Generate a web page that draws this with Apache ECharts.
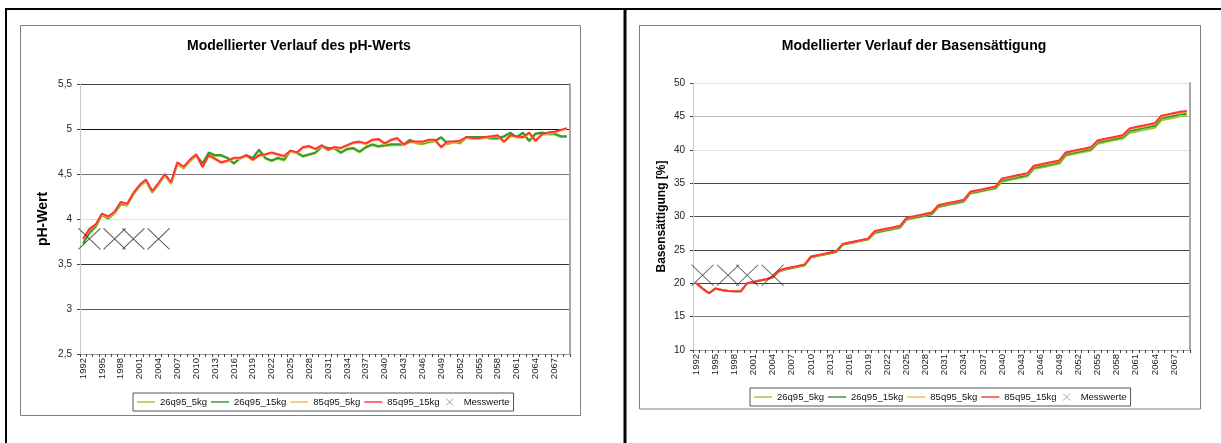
<!DOCTYPE html>
<html>
<head>
<meta charset="utf-8">
<script src="https://cdn.jsdelivr.net/npm/echarts@6/dist/echarts.min.js"></script>
<style>
html,body{margin:0;padding:0;background:#fff;}
#c{width:1221px;height:443px;}
</style>
</head>
<body>
<div id="c"></div>
<script>
const years = ['1992','1993','1994','1995','1996','1997','1998','1999','2000','2001','2002','2003','2004','2005','2006','2007','2008','2009','2010','2011',
'2012','2013','2014','2015','2016','2017','2018','2019','2020','2021','2022','2023','2024','2025','2026','2027','2028','2029','2030','2031',
'2032','2033','2034','2035','2036','2037','2038','2039','2040','2041','2042','2043','2044','2045','2046','2047','2048','2049','2050','2051',
'2052','2053','2054','2055','2056','2057','2058','2059','2060','2061','2062','2063','2064','2065','2066','2067','2068','2069'];

const seriesNames = ['26q95_5kg','26q95_15kg','85q95_5kg','85q95_15kg'];
const measureName = 'Messwerte';

// pH chart
const ph_26q95_5kg = [3.72,3.84,3.91,4.04,4.00,4.06,4.16,4.15,4.27,4.36,4.42,4.29,4.38,4.48,4.39,4.61,4.56,4.64,4.70,4.61,
4.73,4.70,4.70,4.67,4.61,4.67,4.70,4.67,4.76,4.67,4.64,4.67,4.65,4.75,4.73,4.69,4.71,4.73,4.80,4.78,
4.78,4.73,4.77,4.78,4.74,4.79,4.82,4.80,4.81,4.82,4.82,4.82,4.87,4.84,4.83,4.85,4.86,4.90,4.83,4.85,
4.84,4.90,4.90,4.90,4.90,4.89,4.89,4.91,4.95,4.90,4.95,4.86,4.94,4.95,4.94,4.94,4.91,4.91];
const ph_26q95_15kg = [3.73,3.85,3.92,4.05,4.01,4.07,4.17,4.16,4.28,4.37,4.43,4.30,4.39,4.49,4.40,4.62,4.57,4.65,4.71,4.62,
4.74,4.71,4.71,4.68,4.62,4.68,4.71,4.68,4.77,4.68,4.65,4.68,4.66,4.76,4.74,4.70,4.72,4.74,4.81,4.79,
4.79,4.74,4.78,4.79,4.75,4.80,4.83,4.81,4.82,4.83,4.83,4.83,4.88,4.85,4.84,4.86,4.87,4.91,4.84,4.86,
4.85,4.91,4.91,4.91,4.91,4.90,4.90,4.92,4.96,4.91,4.96,4.87,4.95,4.96,4.95,4.95,4.92,4.92];
const ph_85q95_5kg = [3.77,3.88,3.93,4.05,4.02,4.07,4.18,4.16,4.28,4.37,4.43,4.30,4.39,4.49,4.40,4.62,4.57,4.65,4.71,4.57,
4.70,4.66,4.62,4.64,4.67,4.67,4.70,4.65,4.70,4.71,4.73,4.71,4.69,4.75,4.73,4.79,4.80,4.77,4.81,4.76,
4.79,4.78,4.81,4.84,4.85,4.83,4.87,4.88,4.83,4.87,4.89,4.82,4.85,4.85,4.85,4.87,4.87,4.79,4.85,4.85,
4.86,4.90,4.89,4.89,4.90,4.91,4.92,4.85,4.92,4.91,4.90,4.95,4.86,4.93,4.95,4.96,4.98,5.00];
const ph_85q95_15kg = [3.78,3.89,3.94,4.06,4.03,4.08,4.19,4.17,4.29,4.38,4.44,4.31,4.40,4.50,4.41,4.63,4.58,4.66,4.72,4.58,
4.71,4.67,4.63,4.65,4.68,4.68,4.71,4.66,4.71,4.72,4.74,4.72,4.70,4.76,4.74,4.80,4.81,4.78,4.82,4.77,
4.80,4.79,4.82,4.85,4.86,4.84,4.88,4.89,4.84,4.88,4.90,4.83,4.86,4.86,4.86,4.88,4.88,4.80,4.86,4.86,
4.87,4.91,4.90,4.90,4.91,4.92,4.93,4.86,4.93,4.92,4.91,4.96,4.87,4.94,4.96,4.97,4.99,5.01];
const measureYears = ['1993','1997','2000','2004'];
const measurePH = [3.78,3.78,3.78,3.78];

// Basensättigung chart
const bs_26q95_5kg = [20.0,19.2,18.5,19.2,19.0,18.85,18.8,18.8,20.0,20.2,20.4,20.6,20.9,
21.75,22.05,22.25,22.45,22.65,23.85,24.05,24.25,24.45,24.65,25.75,25.95,26.15,26.35,26.55,
27.5,27.7,27.9,28.1,28.3,29.5,29.7,29.9,30.1,30.3,31.4,31.6,31.8,32.0,32.2,33.4,33.6,33.8,34.0,34.2,
35.2,35.4,35.6,35.8,36.0,37.1,37.3,37.5,37.7,37.9,39.1,39.3,39.5,39.7,39.9,40.9,41.1,41.3,41.5,41.7,
42.5,42.7,42.9,43.1,43.3,44.4,44.6,44.8,45.0,45.1];
const bs_26q95_15kg = [20.0,19.2,18.5,19.2,19.0,18.85,18.8,18.8,20.0,20.2,20.4,20.6,20.9,
21.8,22.1,22.3,22.5,22.7,23.9,24.1,24.3,24.5,24.7,25.8,26.0,26.2,26.4,26.6,
27.6,27.8,28.0,28.2,28.4,29.6,29.8,30.0,30.2,30.4,31.5,31.7,31.9,32.1,32.3,33.5,33.7,33.9,34.1,34.3,
35.4,35.6,35.8,36.0,36.2,37.3,37.5,37.7,37.9,38.1,39.3,39.5,39.7,39.9,40.1,41.1,41.3,41.5,41.7,41.9,
42.8,43.0,43.2,43.4,43.6,44.7,44.9,45.1,45.3,45.4];
const bs_85q95_5kg = [20.0,19.2,18.5,19.2,19.0,18.85,18.8,18.8,20.0,20.2,20.4,20.6,20.9,
21.87,22.17,22.37,22.57,22.77,23.97,24.17,24.37,24.57,24.77,25.87,26.07,26.27,26.47,26.67,
27.73,27.93,28.13,28.33,28.53,29.73,29.93,30.13,30.33,30.53,31.63,31.83,32.03,32.23,32.43,33.63,33.83,34.03,34.23,34.43,
35.6,35.8,36.0,36.2,36.4,37.5,37.7,37.9,38.1,38.3,39.5,39.7,39.9,40.1,40.3,41.3,41.5,41.7,41.9,42.1,
43.05,43.25,43.45,43.65,43.85,44.95,45.15,45.35,45.55,45.65];
const bs_85q95_15kg = [20.0,19.2,18.5,19.2,19.0,18.85,18.8,18.8,20.0,20.2,20.4,20.6,20.9,
21.9,22.2,22.4,22.6,22.8,24.0,24.2,24.4,24.6,24.8,25.9,26.1,26.3,26.5,26.7,
27.8,28.0,28.2,28.4,28.6,29.8,30.0,30.2,30.4,30.6,31.7,31.9,32.1,32.3,32.5,33.7,33.9,34.1,34.3,34.5,
35.7,35.9,36.1,36.3,36.5,37.6,37.8,38.0,38.2,38.4,39.6,39.8,40.0,40.2,40.4,41.4,41.6,41.8,42.0,42.2,
43.2,43.4,43.6,43.8,44.0,45.1,45.3,45.5,45.7,45.8];
const measureBS = [21.2,21.2,21.2,21.2];

const phTicks = {min:2.5, max:5.5, step:0.5};
const bsTicks = {min:10, max:50, step:5};

const colors = ['#99cc33','#2f9a2f','#ffb34d','#ff3333'];
const FONT = '"Liberation Sans", Arial, sans-serif';
const xSymbol = 'path://M0,0L10,10M10,0L0,10';
const lineIcon = 'path://M0,0L20,0L20,1.6L0,1.6Z';

function xAxisFor(g){
  return {
    type:'category', gridIndex:g, data:years, boundaryGap:true,
    axisLine:{show:true, onZero:false, lineStyle:{color:'#a0a0a0', width:1}},
    axisTick:{show:true, interval:0, length:3, lineStyle:{color:'#444'}},
    axisLabel:{interval:2, rotate:90, fontSize:9.5, color:'#222', margin:4, fontFamily:FONT},
    splitLine:{show:false}
  };
}
function yAxisFor(g, t, name, nameSize, nameGap, splitColors){
  return {
    type:'value', gridIndex:g, min:t.min, max:t.max, interval:t.step,
    axisLine:{show:true, onZero:false, lineStyle:{color:'#c8c8c8'}},
    axisTick:{show:true, length:3, lineStyle:{color:'#444'}},
    axisLabel:{fontSize:10, color:'#222', margin:8, fontFamily:FONT,
      formatter:v=>String(v).replace('.',',')},
    splitLine:{show:true, lineStyle:{color:splitColors, width:1}},
    name:name, nameLocation:'middle', nameGap:nameGap,
    nameTextStyle:{fontWeight:'bold', fontSize:nameSize, color:'#000', fontFamily:FONT}
  };
}
function borderAxis(g, t){
  return {
    type:'value', gridIndex:g, position:'right', min:t.min, max:t.max, interval:t.step,
    axisLine:{show:true, onZero:false, lineStyle:{color:'#a8a8a8', width:2}},
    axisTick:{show:false}, axisLabel:{show:false}, splitLine:{show:false}
  };
}
function lineSeries(name, data, color, xi, yi){
  return {name:name, type:'line', xAxisIndex:xi, yAxisIndex:yi, data:data,
    showSymbol:false, symbol:'none', lineStyle:{color:color, width:2}, itemStyle:{color:color},
    animation:false};
}
function measureSeries(vals, xi, yi){
  return {name:measureName, type:'scatter', xAxisIndex:xi, yAxisIndex:yi,
    data:measureYears.map((y,i)=>[y, vals[i]]),
    symbol:xSymbol, symbolSize:[22,21], symbolKeepAspect:false,
    itemStyle:{color:'none', borderColor:'#333', borderWidth:1}, animation:false, z:3};
}
function legendAt(left, top){
  return {
    left:left, top:top, orient:'horizontal',
    data:seriesNames.map((n,i)=>({name:n, icon:lineIcon, itemStyle:{color:colors[i], borderWidth:0}}))
      .concat([{name:measureName, icon:xSymbol, itemStyle:{color:'none', borderColor:'#888', borderWidth:1}}]),
    itemWidth:18, itemHeight:7, itemGap:4,
    padding:[3,4], borderColor:'#555', borderWidth:1,
    textStyle:{fontSize:9.5, color:'#111', fontFamily:FONT},
    selectedMode:false
  };
}

const chart = echarts.init(document.getElementById('c'), null, {renderer:'canvas'});
chart.setOption({
  animation:false,
  backgroundColor:'#fff',
  title:[
    {text:'Modellierter Verlauf des pH-Werts', left:299, top:39, textAlign:'center', padding:0,
     textStyle:{fontSize:14, fontWeight:'bold', color:'#000', fontFamily:FONT}},
    {text:'Modellierter Verlauf der Basensättigung', left:914, top:39, textAlign:'center', padding:0,
     textStyle:{fontSize:14, fontWeight:'bold', color:'#000', fontFamily:FONT}}
  ],
  legend:[legendAt(133,393), legendAt(750,388)],
  grid:[
    {left:80, top:84, width:490, height:270},
    {left:693, top:83, width:497, height:267}
  ],
  xAxis:[xAxisFor(0), xAxisFor(1)],
  yAxis:[
    yAxisFor(0, phTicks, 'pH-Wert', 14, 30, ['#a0a0a0','#555','#333','#e0e0e0','#777','#111','#444']),
    yAxisFor(1, bsTicks, 'Basensättigung [%]', 12, 25, ['#a0a0a0','#777','#444','#444','#555','#444','#e0e0e0','#b8b8b8','#e0e0e0']),
    borderAxis(0, phTicks),
    borderAxis(1, bsTicks)
  ],
  series:[
    lineSeries(seriesNames[0], ph_26q95_5kg, colors[0], 0, 0),
    lineSeries(seriesNames[1], ph_26q95_15kg, colors[1], 0, 0),
    lineSeries(seriesNames[2], ph_85q95_5kg, colors[2], 0, 0),
    lineSeries(seriesNames[3], ph_85q95_15kg, colors[3], 0, 0),
    measureSeries(measurePH, 0, 0),
    lineSeries(seriesNames[0], bs_26q95_5kg, colors[0], 1, 1),
    lineSeries(seriesNames[1], bs_26q95_15kg, colors[1], 1, 1),
    lineSeries(seriesNames[2], bs_85q95_5kg, colors[2], 1, 1),
    lineSeries(seriesNames[3], bs_85q95_15kg, colors[3], 1, 1),
    measureSeries(measureBS, 1, 1)
  ],
  graphic:[
    {type:'line', shape:{x1:5, y1:9, x2:1221, y2:9}, style:{stroke:'#000', lineWidth:2}, silent:true},
    {type:'line', shape:{x1:6, y1:8, x2:6, y2:443}, style:{stroke:'#000', lineWidth:2}, silent:true},
    {type:'line', shape:{x1:625, y1:8, x2:625, y2:443}, style:{stroke:'#000', lineWidth:3}, silent:true},
    {type:'rect', shape:{x:20.5, y:25.5, width:560, height:390}, style:{stroke:'#7f7f7f', fill:'none', lineWidth:1}, silent:true, z:-1},
    {type:'rect', shape:{x:639.5, y:25.5, width:561, height:383.5}, style:{stroke:'#7f7f7f', fill:'none', lineWidth:1}, silent:true, z:-1}
  ]
});
</script>
</body>
</html>
